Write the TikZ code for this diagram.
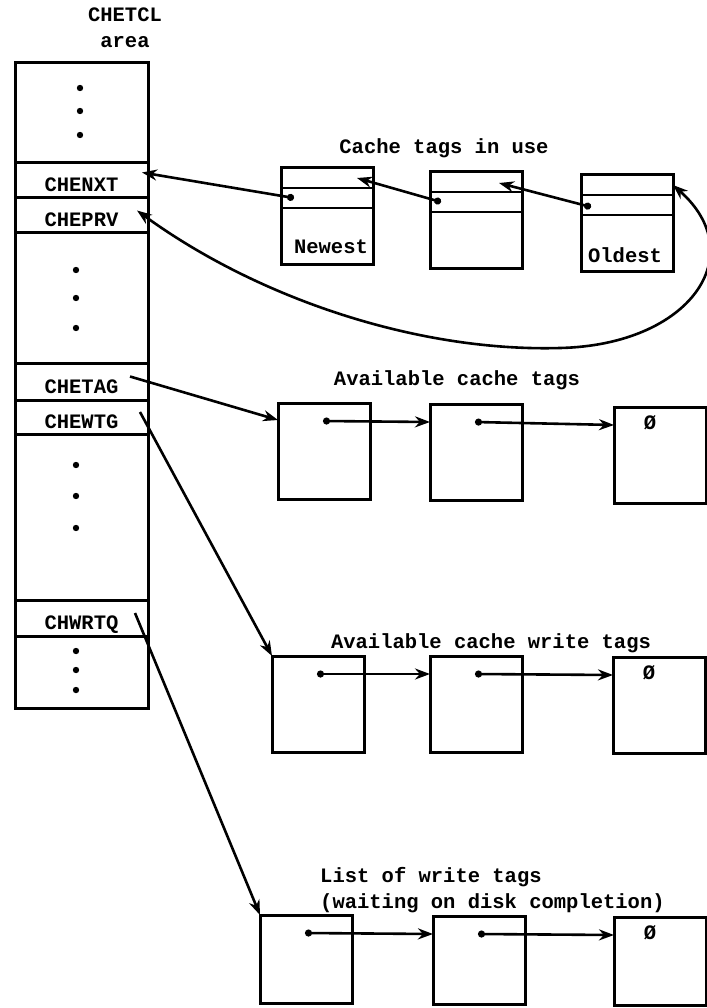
\documentclass[tikz,border=0pt]{standalone}
\usepackage{fontspec}
\setmonofont{Liberation Mono}
\usepackage{tikz}
\usetikzlibrary{arrows.meta, positioning, calc}

\begin{document}
\begin{tikzpicture}[x=1pt, y=-1pt, >={Stealth[length=15pt, width=11pt]},
  lbl/.style={font=\fontsize{20.5}{26}\selectfont\ttfamily\bfseries, inner sep=0pt},
  cell/.style={draw, line width=3pt, minimum width=133pt, inner sep=0pt, outer sep=0pt,
    text height=23pt, text depth=0pt, lbl},
  tagbox/.style={draw, line width=3pt, minimum width=92pt, minimum height=96pt, inner sep=0pt, outer sep=0pt},
  link/.style={line width=2.6pt},
  ptr/.style={link, {Circle[length=7pt]}-{Stealth[length=15pt, width=11pt]}}]
  \useasboundingbox (0,0) rectangle (706,1008);

  % CHETCL area
  \node[lbl, align=center] (areatitle) at (125,28) {CHETCL\\area};
  \node[cell, minimum height=100pt] (ctop) at (81.5,113) {};
  \node[cell, minimum height=35pt, below=0pt of ctop] (chenxt) {CHENXT};
  \node[cell, minimum height=35pt, below=0pt of chenxt] (cheprv) {CHEPRV};
  \node[cell, minimum height=130pt, below=0pt of cheprv] (gapa) {};
  \node[cell, minimum height=37pt, below=0pt of gapa] (chetag) {CHETAG};
  \node[cell, minimum height=34pt, below=0pt of chetag] (chewtg) {CHEWTG};
  \node[cell, minimum height=166pt, below=0pt of chewtg] (gapb) {};
  \node[cell, minimum height=36pt, below=0pt of gapb] (chwrtq) {CHWRTQ};
  \node[cell, minimum height=72pt, below=0pt of chwrtq] (cbot) {};
  \foreach \x/\y in {80/88, 80/111, 80/135, 76/270, 76/298, 76/328,
                     76/465, 76/496, 76/528, 76/651, 76/670, 76/690}
    \fill (\x,\y) circle (3.2pt);

  % Cache tags in use
  \node[lbl] (usetitle) at (444,148) {Cache tags in use};
  \foreach \n/\x/\y in {u1/327/216, u2/476/220, u3/627/223} {
    \node[tagbox] (\n) at (\x,\y) {};
    \draw[line width=2.4pt] ($(\n.north west)+(0,20)$) -- ($(\n.north east)+(0,20)$);
    \draw[line width=2.4pt] ($(\n.north west)+(0,40)$) -- ($(\n.north east)+(0,40)$);
  }
  \node[lbl] (newest) at ($(u1.south)+(4,-17)$) {Newest};
  \node[lbl] (oldest) at ($(u3.south)+(-2,-16)$) {Oldest};
  \draw[ptr] ($(u1.north west)+(13,30)$) -- ($(chenxt.east)+(-6,-8)$);
  \draw[ptr] ($(u2.north west)+(11,30)$) -- ($(u1.north east)+(-16,10)$);
  \draw[ptr] ($(u3.north west)+(10,32)$) -- ($(u2.north east)+(-23,11)$);
  \coordinate (loop) at (560,348);
  \draw[link, <->] ($(cheprv.east)+(-11,-5)$) .. controls (260,300) and (420,352) .. (loop)
    .. controls (690,345) and (752,255) .. ($(u3.north east)+(0,10)$);

  % Available cache tags
  \node[lbl] (availtitle) at (457,380) {Available cache tags};
  \foreach \n/\x/\y in {a1/324/451, a2/476/452, a3/660/455}
    \node[tagbox] (\n) at (\x,\y) {};
  \draw[link, ->] ($(chetag.east)+(-18,-5)$) -- ($(a1.north west)+(0,17)$);

  % Available cache write tags
  \node[lbl] (writetitle) at (491,643) {Available cache write tags};
  \foreach \n/\x/\y in {w1/318/704, w2/476/704, w3/659/705}
    \node[tagbox] (\n) at (\x,\y) {};
  \draw[link, ->] ($(chewtg.east)+(-8,-5)$) -- (w1.north west);

  % List of write tags
  \node[lbl, align=left, anchor=west] (queuetitle) at (320,890)
    {List of write tags\\(waiting on disk completion)};
  \foreach \n/\x/\y in {l1/306/959, l2/479/960, l3/660/961}
    \node[tagbox, minimum height=88pt] (\n) at (\x,\y) {};
  \draw[link, ->] ($(chwrtq.east)+(-13,-5)$) -- (l1.north west);

  % chained pointers and end markers
  \foreach \f/\t in {a1/a2, a2/a3, w1/w2, w2/w3, l1/l2, l2/l3}
    \draw[ptr] ($(\f.north west)+(45,18)$) -- ($(\t.north west)+(0,18)$);
  \foreach \n in {a3, w3, l3}
    \node[lbl] (\n null) at ($(\n.north west)+(36,16)$) {Ø};
\end{tikzpicture}
\end{document}
